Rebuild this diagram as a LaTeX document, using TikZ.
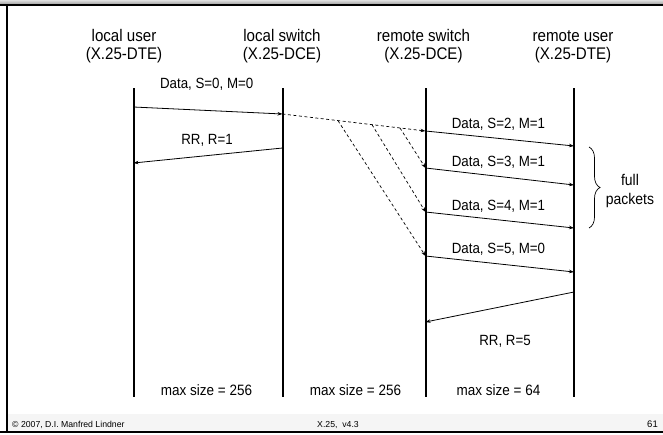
\documentclass[tikz,border=0pt]{standalone}
\usepackage{fontspec}
\setmainfont{Liberation Sans}
\newfontfamily\narrowsans[FakeStretch=0.9]{Liberation Sans}
\usetikzlibrary{arrows.meta,decorations.pathreplacing}
\begin{document}
\begin{tikzpicture}[x=1pt,y=-1pt,
  lifeline/.style={line width=2pt},
  msg/.style={line width=0.8pt,-{Stealth[length=5pt,width=3.5pt]}},
  relay/.style={line width=0.7pt,dash pattern=on 3pt off 2.5pt,-{Stealth[length=5pt,width=3.5pt]}},
  head/.style={font=\narrowsans\fontsize{16.8}{18.5}\selectfont,align=center,inner sep=0pt,anchor=base},
  lbl/.style={font=\narrowsans\fontsize{14.8}{16}\selectfont,inner sep=0pt,anchor=base},
  sizelbl/.style={font=\narrowsans\fontsize{15}{16}\selectfont,inner sep=0pt,anchor=base},
  foot/.style={font=\fontsize{8.7}{10}\selectfont,inner sep=0pt}]
\useasboundingbox (0,0) rectangle (663,434);

% slide frame: top band, left rule, footer band and bottom rule
\shade[top color=gray!25,bottom color=gray!65] (0,0) rectangle (663,3.5);
\draw[line width=2pt] (0,4.5) -- (663,4.5);
\fill[gray!8] (8,414) rectangle (663,431);
\draw[line width=2pt] (7,4.5) -- (7,432);
\draw[line width=2pt] (0,432) -- (663,432);

% column headings (base anchor sits on the second line)
\node[head] (hLU) at (124,59.5) {local user\\(X.25-DTE)};
\node[head] (hLS) at (282,59.5) {local switch\\(X.25-DCE)};
\node[head] (hRS) at (423.5,59.5) {remote switch\\(X.25-DCE)};
\node[head] (hRU) at (573,59.5) {remote user\\(X.25-DTE)};

% lifelines
\coordinate (LUt) at (133.5,88); \coordinate (LUb) at (133.5,397);
\coordinate (LSt) at (282.5,88); \coordinate (LSb) at (282.5,397);
\coordinate (RSt) at (425.5,88); \coordinate (RSb) at (425.5,397);
\coordinate (RUt) at (574,88);   \coordinate (RUb) at (574,397);
\draw[lifeline] (LUt) -- (LUb);
\draw[lifeline] (LSt) -- (LSb);
\draw[lifeline] (RSt) -- (RSb);
\draw[lifeline] (RUt) -- (RUb);

% message end points on the lifelines
\coordinate (a0) at (133.5,107);  \coordinate (b0) at (282.5,114);
\coordinate (b1) at (282.5,148);  \coordinate (a1) at (133.5,163);
\coordinate (c2) at (425.5,131);  \coordinate (d2) at (574,146);
\coordinate (c3) at (425.5,168);  \coordinate (d3) at (574,185);
\coordinate (c4) at (425.5,212);  \coordinate (d4) at (574,228);
\coordinate (c5) at (425.5,256);  \coordinate (d5) at (574,272);
\coordinate (d6) at (574,292);    \coordinate (c6) at (425.5,322);
\coordinate (s1) at (338,120.7);  \coordinate (s2) at (372,124.7);
\coordinate (s3) at (400,128);

% local side
\draw[msg] (a0) -- (b0);
\node[lbl] (m0) at (206.7,88.3) {Data, S=0, M=0};
\draw[msg] (b1) -- (a1);
\node[lbl] (r1) at (207,144) {RR, R=1};

% transfer through the network, split into smaller packets
\draw[relay] (b0) -- (c2);
\draw[relay] (s3) -- (c3);
\draw[relay] (s2) -- (c4);
\draw[relay] (s1) -- (c5);

% remote side
\draw[msg] (c2) -- (d2);
\node[lbl] (m2) at (498.5,128.8) {Data, S=2, M=1};
\draw[msg] (c3) -- (d3);
\node[lbl] (m3) at (498.5,166.7) {Data, S=3, M=1};
\draw[msg] (c4) -- (d4);
\node[lbl] (m4) at (498.5,210.4) {Data, S=4, M=1};
\draw[msg] (c5) -- (d5);
\node[lbl] (m5) at (498.5,253.9) {Data, S=5, M=0};
\draw[msg] (d6) -- (c6);
\node[lbl] (r5) at (505,345) {RR, R=5};

% brace over the full packets
\draw[line width=0.7pt,decorate,decoration={brace,amplitude=11pt}] (589,147) -- (589,228);
\node[font=\narrowsans\fontsize{15.5}{19}\selectfont,align=center,inner sep=0pt,anchor=base] (full) at (630,204.5) {full\\packets};

% maximum packet sizes per section
\node[sizelbl] (z1) at (206.5,395) {max size = 256};
\node[sizelbl] (z2) at (355.5,395) {max size = 256};
\node[sizelbl] (z3) at (498.5,395) {max size = 64};

% footer
\node[foot,anchor=base west] (fl) at (12,427) {© 2007, D.I. Manfred Lindner};
\node[foot,anchor=base] (fc) at (338,427) {X.25,\ \ v4.3};
\node[foot,font=\fontsize{9.5}{10}\selectfont,anchor=base east] (fr) at (658,427) {61};
\end{tikzpicture}
\end{document}
